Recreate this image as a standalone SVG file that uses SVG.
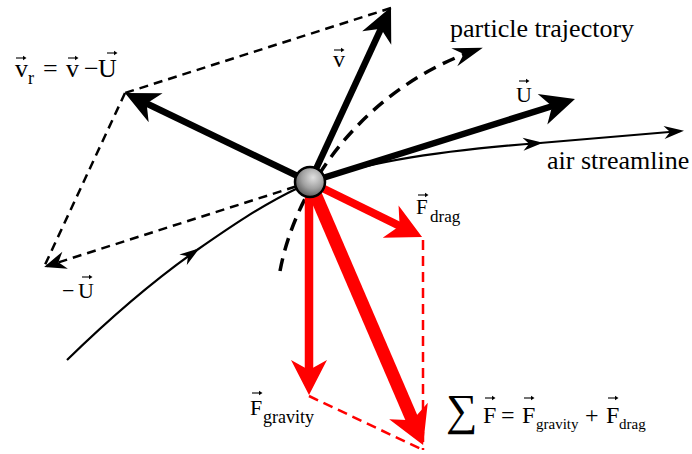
<svg xmlns="http://www.w3.org/2000/svg" width="692" height="454" viewBox="0 0 692 454">
<style>
.t{font-family:"Liberation Serif","Times New Roman",serif;fill:#000}
.dash{fill:none;stroke:#000;stroke-width:2.5;stroke-dasharray:9 6}
.rdash{fill:none;stroke:#f00;stroke-width:2.5;stroke-dasharray:10 6}
.thick{fill:none;stroke:#000;stroke-width:6.5}
.thin{fill:none;stroke:#000;stroke-width:2.2}
.red{fill:none;stroke:#f00}
.oa{fill:none;stroke:#000;stroke-width:1.1}
</style>
<defs>
<marker id="mB" markerUnits="userSpaceOnUse" markerWidth="1" markerHeight="1" overflow="visible" orient="auto" refX="0" refY="0"><path d="M20,0 L-14,-16 L-4,0 L-14,16 Z" fill="#000"/></marker>
<marker id="mR" markerUnits="userSpaceOnUse" markerWidth="1" markerHeight="1" overflow="visible" orient="auto" refX="0" refY="0"><path d="M20,0 L-15,-18 L-5,0 L-15,18 Z" fill="#f00"/></marker>
<marker id="mR2" markerUnits="userSpaceOnUse" markerWidth="1" markerHeight="1" overflow="visible" orient="auto" refX="0" refY="0"><path d="M22,0 L-15,-21 L-5,0 L-15,21 Z" fill="#f00"/></marker>
<marker id="mS" markerUnits="userSpaceOnUse" markerWidth="1" markerHeight="1" overflow="visible" orient="auto" refX="0" refY="0"><path d="M3,0 L-17,-6.5 L-11,0 L-17,6.5 Z" fill="#000"/></marker>
<marker id="mD" markerUnits="userSpaceOnUse" markerWidth="1" markerHeight="1" overflow="visible" orient="auto" refX="0" refY="0"><path d="M3,0 L-19,-9 L-12,0 L-19,9 Z" fill="#000"/></marker>
<marker id="mT" markerUnits="userSpaceOnUse" markerWidth="1" markerHeight="1" overflow="visible" orient="auto" refX="0" refY="0"><path d="M4,0 L-26,-9.5 L-16,0 L-26,9.5 Z" fill="#000"/></marker>
<g id="oarrow"><path d="M0,0 H9" class="oa"/><path d="M7,-2.3 L10.5,0 L7,2.3 Z" fill="#000"/></g>
<radialGradient id="ball" cx="0.6" cy="0.35" r="0.75">
<stop offset="0" stop-color="#e0e0e0"/><stop offset="0.5" stop-color="#a0a0a0"/><stop offset="1" stop-color="#444"/>
</radialGradient>
</defs>

<g id="connectors">
<!-- parallelogram of velocities -->
<path class="dash" d="M391,8 L125,93"/>
<path class="dash" d="M125,93 L44,267"/>
<path class="dash" d="M310,182 L47,266" marker-end="url(#mD)"/>
<!-- air streamline -->
<path class="thin" d="M67,360 C110,318 150,283 197,250" marker-end="url(#mS)"/>
<path class="thin" d="M197,250 C230,227 262,205 300,187"/>
<path class="thin" d="M322,179 C360,165 420,152 540,143" marker-end="url(#mS)"/>
<path class="thin" d="M540,143 L681,131" marker-end="url(#mS)"/>
<!-- particle trajectory -->
<path fill="none" stroke="#000" stroke-width="3.5" stroke-dasharray="13 8" d="M280,271 C297,180 370,85 479,49" marker-end="url(#mT)"/>
<!-- velocity vectors -->
<path class="thick" d="M310,182 L382.6,25.2" marker-end="url(#mB)"/>
<path class="thick" d="M310,182 L143,101.7" marker-end="url(#mB)"/>
<path class="thick" d="M310,182 L555.9,105" marker-end="url(#mB)"/>
<!-- forces -->
<path class="rdash" d="M423,240 L423,450"/>
<path class="rdash" d="M309,396 L423,450"/>
<path class="red" stroke-width="8" d="M310,182 L404.1,228.2" marker-end="url(#mR)"/>
<path class="red" stroke-width="8.5" d="M309,182 L309,375" marker-end="url(#mR)"/>
<path class="red" stroke-width="13" d="M310,182 L414.4,424.8" marker-end="url(#mR2)"/>
</g>

<g id="particle">
<circle cx="310" cy="182" r="15" fill="url(#ball)" stroke="#000" stroke-width="2.5"/>
</g>

<g id="label-vr">
<text class="t" font-size="26"><tspan x="15" y="77">v</tspan><tspan x="28" y="84" font-size="18">r</tspan><tspan x="43" y="77">=</tspan><tspan x="66" y="77">v</tspan><tspan x="84" y="77">−</tspan><tspan x="98" y="77">U</tspan></text>
<use href="#oarrow" x="16" y="58"/><use href="#oarrow" x="68" y="58"/><use href="#oarrow" x="107" y="53"/>
</g>
<g id="label-v">
<text class="t" font-size="24" x="333" y="67">v</text>
<use href="#oarrow" x="334" y="50"/>
</g>
<g id="label-U">
<text class="t" font-size="22" x="516" y="102">U</text>
<use href="#oarrow" x="519" y="81"/>
</g>
<g id="label-minusU">
<text class="t" font-size="22"><tspan x="62" y="298">−</tspan><tspan x="78" y="298">U</tspan></text>
<use href="#oarrow" x="82" y="277"/>
</g>
<g id="label-traj"><text class="t" font-size="26" x="450" y="37">particle trajectory</text></g>
<g id="label-air"><text class="t" font-size="26" x="547" y="169">air streamline</text></g>
<g id="label-Fdrag">
<text class="t" font-size="21"><tspan x="416" y="214">F</tspan><tspan x="430" y="222" font-size="17">drag</tspan></text>
<use href="#oarrow" x="418" y="195"/>
</g>
<g id="label-Fgrav">
<text class="t" font-size="22"><tspan x="250" y="415">F</tspan><tspan x="263" y="423" font-size="18">gravity</tspan></text>
<use href="#oarrow" x="252" y="393"/>
</g>
<g id="label-sum">
<text class="t" font-size="44" x="446" y="425">∑</text>
<text class="t" font-size="24"><tspan x="483" y="423">F</tspan><tspan x="501" y="423">=</tspan><tspan x="522" y="423">F</tspan><tspan x="536" y="429" font-size="15">gravity</tspan><tspan x="585" y="423">+</tspan><tspan x="606" y="423">F</tspan><tspan x="619" y="429" font-size="15">drag</tspan></text>
<use href="#oarrow" x="485" y="398"/><use href="#oarrow" x="524" y="398"/><use href="#oarrow" x="608" y="398"/>
</g>
</svg>
